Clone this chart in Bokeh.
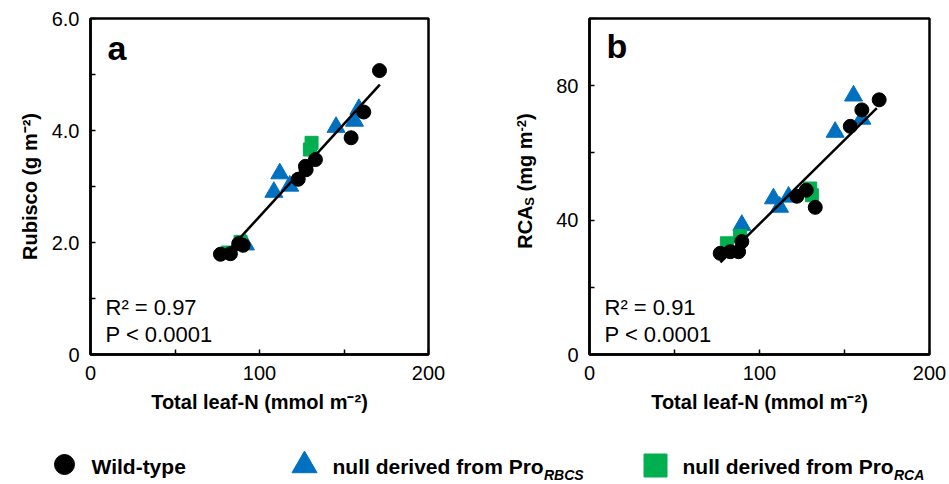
from math import pi
from bokeh.plotting import figure
from bokeh.layouts import column, row
from bokeh.models import Range1d, FixedTicker, Label
from bokeh.core.properties import value
from bokeh.embed import file_html
from bokeh.resources import INLINE

FONT = "Liberation Sans"
BLACK = "#000000"
BLUE = "#0070C0"
GREEN = "#00B050"

# ---------------- data: panel a (Rubisco) ----------------
a_wt_n = [76.9, 82.8, 87.7, 90.3, 122.9, 127.2, 127.6, 133.1, 154.2, 161.7, 171.0]
a_wt_y = [1.79, 1.80, 1.98, 1.95, 3.13, 3.36, 3.30, 3.48, 3.87, 4.33, 5.07]
a_rbcs_n = [91.7, 108.5, 112.0, 117.9, 145.3, 156.2, 158.8]
a_rbcs_y = [1.96, 2.90, 3.23, 3.01, 4.06, 4.17, 4.38]
a_rca_n = [81.2, 88.8, 130.8, 129.8]
a_rca_y = [1.82, 2.01, 3.78, 3.66]
a_fit_n = [77.5, 171.2]
a_fit_y = [1.72, 4.82]

# ---------------- data: panel b (RCA_S) ----------------
b_wt_n = [76.9, 82.8, 87.7, 89.6, 122.0, 127.5, 132.8, 153.4, 160.2, 170.4]
b_wt_y = [30.1, 30.6, 30.6, 33.6, 47.1, 48.9, 43.8, 67.9, 72.8, 75.8]
b_rbcs_n = [89.6, 108.2, 111.8, 117.1, 144.5, 155.3, 160.2]
b_rbcs_y = [38.5, 46.4, 43.9, 46.9, 66.2, 77.0, 70.1]
b_rca_n = [80.8, 88.6, 129.8, 130.8]
b_rca_y = [33.1, 35.3, 49.4, 47.4]
b_fit_n = [77.0, 169.0]
b_fit_y = [27.4, 73.3]

# ---------------- ticks ----------------
x_ticks = [0, 50, 100, 150, 200]
x_tick_labels = ["0", "", "100", "", "200"]
a_y_ticks = [0, 1, 2, 3, 4, 5, 6]
a_y_tick_labels = ["0", "", "2.0", "", "4.0", "", "6.0"]
b_y_ticks = [0, 20, 40, 60, 80, 100]
b_y_tick_labels = ["0", "", "40", "", "80", ""]

stats_a = ["R\u00b2 = 0.97", "P < 0.0001"]
stats_b = ["R\u00b2 = 0.91", "P < 0.0001"]

legend_labels = ["Wild-type", "null derived from Pro", "null derived from Pro"]
legend_subs = ["RBCS", "RCA"]

H = 415      # height of the two panels
TOP = 18     # border above the frames
BOT = 60     # border below the frames
FRAME_BOTTOM = H - BOT  # canvas y of the frame bottom


def style_axes(p, yt, ytl):
    p.xaxis.ticker = FixedTicker(ticks=x_ticks)
    p.xaxis.major_label_overrides = dict(zip(x_ticks, x_tick_labels))
    p.yaxis.ticker = FixedTicker(ticks=yt)
    p.yaxis.major_label_overrides = dict(zip(yt, ytl))
    for ax in (p.xaxis, p.yaxis):
        ax.axis_line_color = BLACK
        ax.axis_line_width = 2.5
        ax.major_tick_line_color = BLACK
        ax.major_tick_line_width = 1.5
        ax.major_tick_in = 5
        ax.major_tick_out = 0
        ax.minor_tick_line_color = None
        ax.major_label_text_font = FONT
        ax.major_label_text_font_size = "20px"
        ax.major_label_text_color = BLACK
        ax.major_label_standoff = 11
        ax.axis_label_text_font = FONT
        ax.axis_label_text_font_size = "20px"
        ax.axis_label_text_font_style = "bold"
        ax.axis_label_text_color = BLACK
        ax.axis_label_standoff = 8
    p.xgrid.visible = False
    p.ygrid.visible = False
    p.outline_line_color = BLACK
    p.outline_line_width = 2.5
    p.background_fill_color = None
    p.border_fill_color = None


def bare(p):
    p.xgrid.visible = False
    p.ygrid.visible = False
    p.outline_line_color = None
    p.background_fill_color = None
    p.border_fill_color = None


def draw_points(p, wn, wy, rn, ry, qn, qy, fn, fy):
    p.scatter(rn, ry, marker="triangle", size=18, fill_color=BLUE, line_color=BLUE)
    p.scatter(qn, qy, marker="square", size=13, fill_color=GREEN, line_color=GREEN)
    p.line(fn, fy, line_color=BLACK, line_width=2.5)
    p.scatter(wn, wy, marker="circle", size=14, fill_color=BLACK, line_color=BLACK)


def add_texts(p, letter, stats, letter_y):
    p.add_layout(Label(x=17, y=letter_y, x_units="screen", y_units="screen", text=letter,
                       text_font=FONT, text_font_size="34px", text_font_style="bold",
                       text_color=BLACK, text_baseline="middle"))
    p.add_layout(Label(x=15, y=47, x_units="screen", y_units="screen", text=stats[0],
                       text_font=FONT, text_font_size="22px", text_color=BLACK,
                       text_baseline="middle"))
    p.add_layout(Label(x=15, y=20, x_units="screen", y_units="screen", text=stats[1],
                       text_font=FONT, text_font_size="22px", text_color=BLACK,
                       text_baseline="middle"))


# ---------------- panel a ----------------
pa = figure(width=480, height=H, x_range=Range1d(0, 200), y_range=Range1d(0, 6),
            min_border_left=90, min_border_right=52, min_border_top=TOP, min_border_bottom=BOT,
            output_backend="svg", toolbar_location=None)
style_axes(pa, a_y_ticks, a_y_tick_labels)
pa.xaxis.axis_label = "Total leaf-N (mmol m\u207b\u00b2)"
pa.yaxis.axis_label = "Rubisco (g m\u207b\u00b2)"
draw_points(pa, a_wt_n, a_wt_y, a_rbcs_n, a_rbcs_y, a_rca_n, a_rca_y, a_fit_n, a_fit_y)
add_texts(pa, "a", stats_a, 307)

# ---------------- y-title strip for panel b (with subscript / superscript) ----------------
py = figure(width=60, height=H, x_range=Range1d(0, 60), y_range=Range1d(0, FRAME_BOTTOM - TOP),
            x_axis_location=None, y_axis_location=None,
            min_border_left=0, min_border_right=0, min_border_top=TOP, min_border_bottom=BOT,
            output_backend="svg", toolbar_location=None)
bare(py)
mid_x = 44
cur = FRAME_BOTTOM - 249
# (text, font px, sideways offset, advance before, advance after)
pieces = [
    ("RCA", 20, 0, 0.0, 43.3),
    ("S", 13, 5, 0.0, 8.7),
    ("(mg m", 20, 0, 5.6, 60.0),
    ("-2", 13, -3, 0.0, 11.6),
    (")", 20, 0, 0.0, 6.7),
]
for txt, fs, dx, pre, w in pieces:
    cur += pre
    py.text(x=[mid_x + dx], y=[cur], text=[txt], angle=pi / 2,
            text_font=value(FONT), text_font_size=f"{fs}px", text_font_style="bold",
            text_color=BLACK, text_baseline="middle", text_align="left")
    cur += w

# ---------------- panel b ----------------
pb = figure(width=407, height=H, x_range=Range1d(0, 200), y_range=Range1d(0, 100),
            min_border_left=49, min_border_right=18, min_border_top=TOP, min_border_bottom=BOT,
            output_backend="svg", toolbar_location=None)
style_axes(pb, b_y_ticks, b_y_tick_labels)
pb.xaxis.axis_label = "Total leaf-N (mmol m\u207b\u00b2)"
draw_points(pb, b_wt_n, b_wt_y, b_rbcs_n, b_rbcs_y, b_rca_n, b_rca_y, b_fit_n, b_fit_y)
add_texts(pb, "b", stats_b, 309)

# ---------------- legend strip ----------------
LH = 67
pl = figure(width=947, height=LH, x_range=Range1d(0, 947), y_range=Range1d(0, LH),
            x_axis_location=None, y_axis_location=None,
            min_border=0, output_backend="svg", toolbar_location=None)
bare(pl)

pl.scatter([64], [LH - 464 + H], marker="circle", size=20, fill_color=BLACK, line_color=BLACK)
pl.scatter([304], [LH - 465 + H], marker="triangle", size=25, fill_color=BLUE, line_color=BLUE)
pl.scatter([655], [LH - 465 + H], marker="square", size=23, fill_color=GREEN, line_color=GREEN)

pl.text(x=[91, 332, 682], y=[LH - 466 + H] * 3, text=legend_labels,
        text_font=value(FONT), text_font_size="21px", text_font_style="bold",
        text_color=BLACK, text_baseline="middle", text_align="left")
pl.text(x=[543.5, 893.5], y=[LH - 474.5 + H] * 2, text=legend_subs,
        text_font=value(FONT), text_font_size="14px", text_font_style="bold italic",
        text_color=BLACK, text_baseline="middle", text_align="left")

layout = column(row(pa, py, pb), pl)
open("out.html", "w").write(file_html(layout, INLINE))
